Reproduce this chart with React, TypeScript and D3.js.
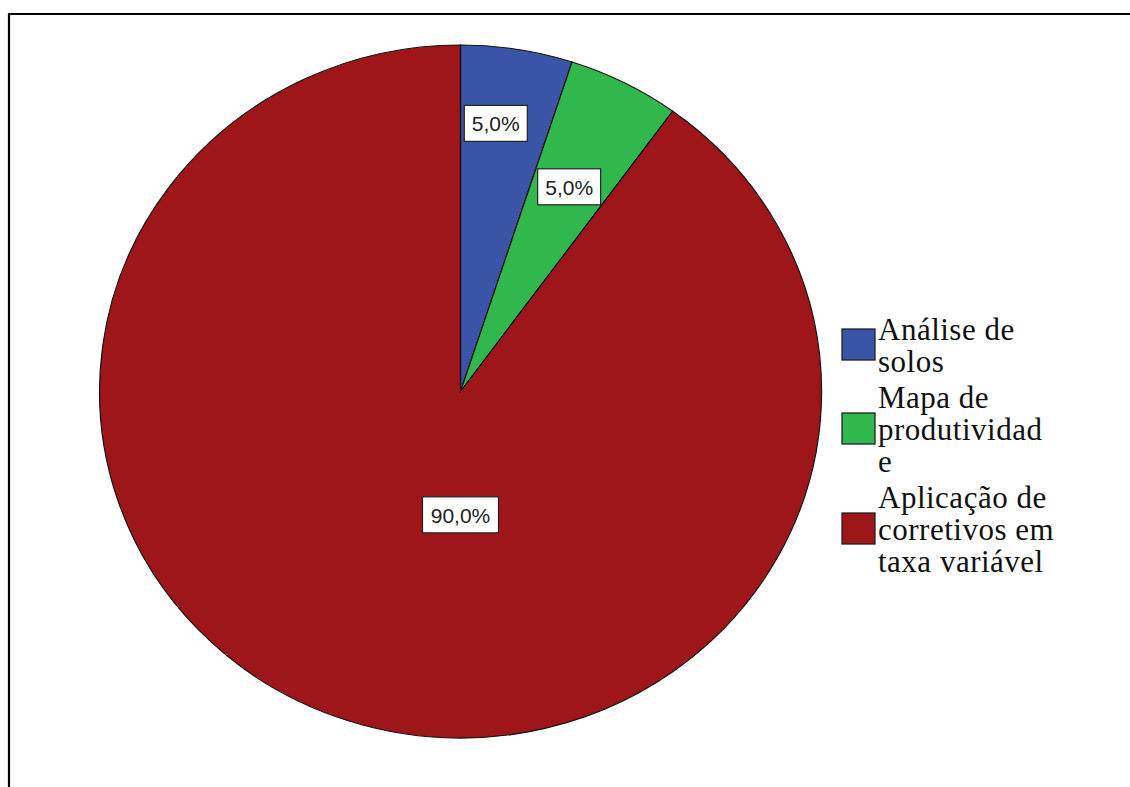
import React from "react";
import * as d3 from "d3";

const categories = ["Análise de solos", "Mapa de produtividade", "Aplicação de corretivos em taxa variável"];
const values = [5, 5, 90];
const legendLines = [["Análise de", "solos"], ["Mapa de", "produtividad", "e"], ["Aplicação de", "corretivos em", "taxa variável"]];
const colors = ["#3a55a7", "#30b84c", "#9e151a"];
// label placement (angle in degrees, fraction of radius) – layout only
const labelAngles = [7.2, 27, 180];
const labelRadii = [0.78, 0.663, 0.356];

const W = 1130, H = 787;
const cx = 460.5, cy = 391.5, rx = 361, ry = 346.5;

export default function App() {
  const pie = d3.pie<number>().sort(null).value((d) => d)(values);
  const arc = d3.arc<d3.PieArcDatum<number>>().innerRadius(0).outerRadius(1);
  const total = d3.sum(values);
  const fmt = (v: number) => ((v / total) * 100).toFixed(1).replace(".", ",") + "%";

  const lineH = 32;
  const groupGap = 36;
  let y0 = 340;
  const legendItems = legendLines.map((lines, i) => {
    const first = y0;
    y0 += (lines.length - 1) * lineH + groupGap;
    const top = first - 22;
    const bottom = first + (lines.length - 1) * lineH;
    return { lines, first, mid: (top + bottom) / 2, i };
  });

  return (
    <svg width={W} height={H} style={{ position: "absolute", left: 0, top: 0, background: "#fff" }}>
      <rect x={0} y={0} width={W} height={H} fill="#fff" />
      <path d={`M9,${H + 5} L9,14 L${W + 5},14`} fill="none" stroke="#000" strokeWidth={2.2} />
      <g transform={`translate(${cx},${cy}) scale(${rx},${ry})`}>
        {pie.map((d, i) => (
          <path key={i} d={arc(d) || ""} fill={colors[i]} stroke="#111" strokeWidth={1.2} vectorEffect="non-scaling-stroke" aria-label={categories[i]} />
        ))}
      </g>
      {pie.map((d, i) => {
        const a = (labelAngles[i] * Math.PI) / 180;
        const x = cx + Math.sin(a) * labelRadii[i] * rx;
        const y = cy - Math.cos(a) * labelRadii[i] * ry;
        const txt = fmt(d.value);
        const tw = txt.length === 4 ? 53 : 66;
        return (
          <g key={"l" + i}>
            <rect x={x - tw / 2 - 5} y={y - 18} width={tw + 10} height={36} fill="#fff" stroke="#222" strokeWidth={1.2} />
            <text x={x} y={y + 8} textAnchor="middle" fontFamily="Liberation Sans, Arial, sans-serif" fontSize={21} fill="#222">
              {txt}
            </text>
          </g>
        );
      })}
      {legendItems.map((it) => (
        <g key={"g" + it.i}>
          <rect x={842} y={it.mid - 16} width={33} height={31} fill={colors[it.i]} stroke="#222" strokeWidth={1.3} />
          <text fontFamily="Liberation Serif, Times New Roman, serif" fontSize={31} letterSpacing={0.5} fill="#111">
            {it.lines.map((l, k) => (
              <tspan key={k} x={878} y={it.first + k * lineH}>{l}</tspan>
            ))}
          </text>
        </g>
      ))}
    </svg>
  );
}
